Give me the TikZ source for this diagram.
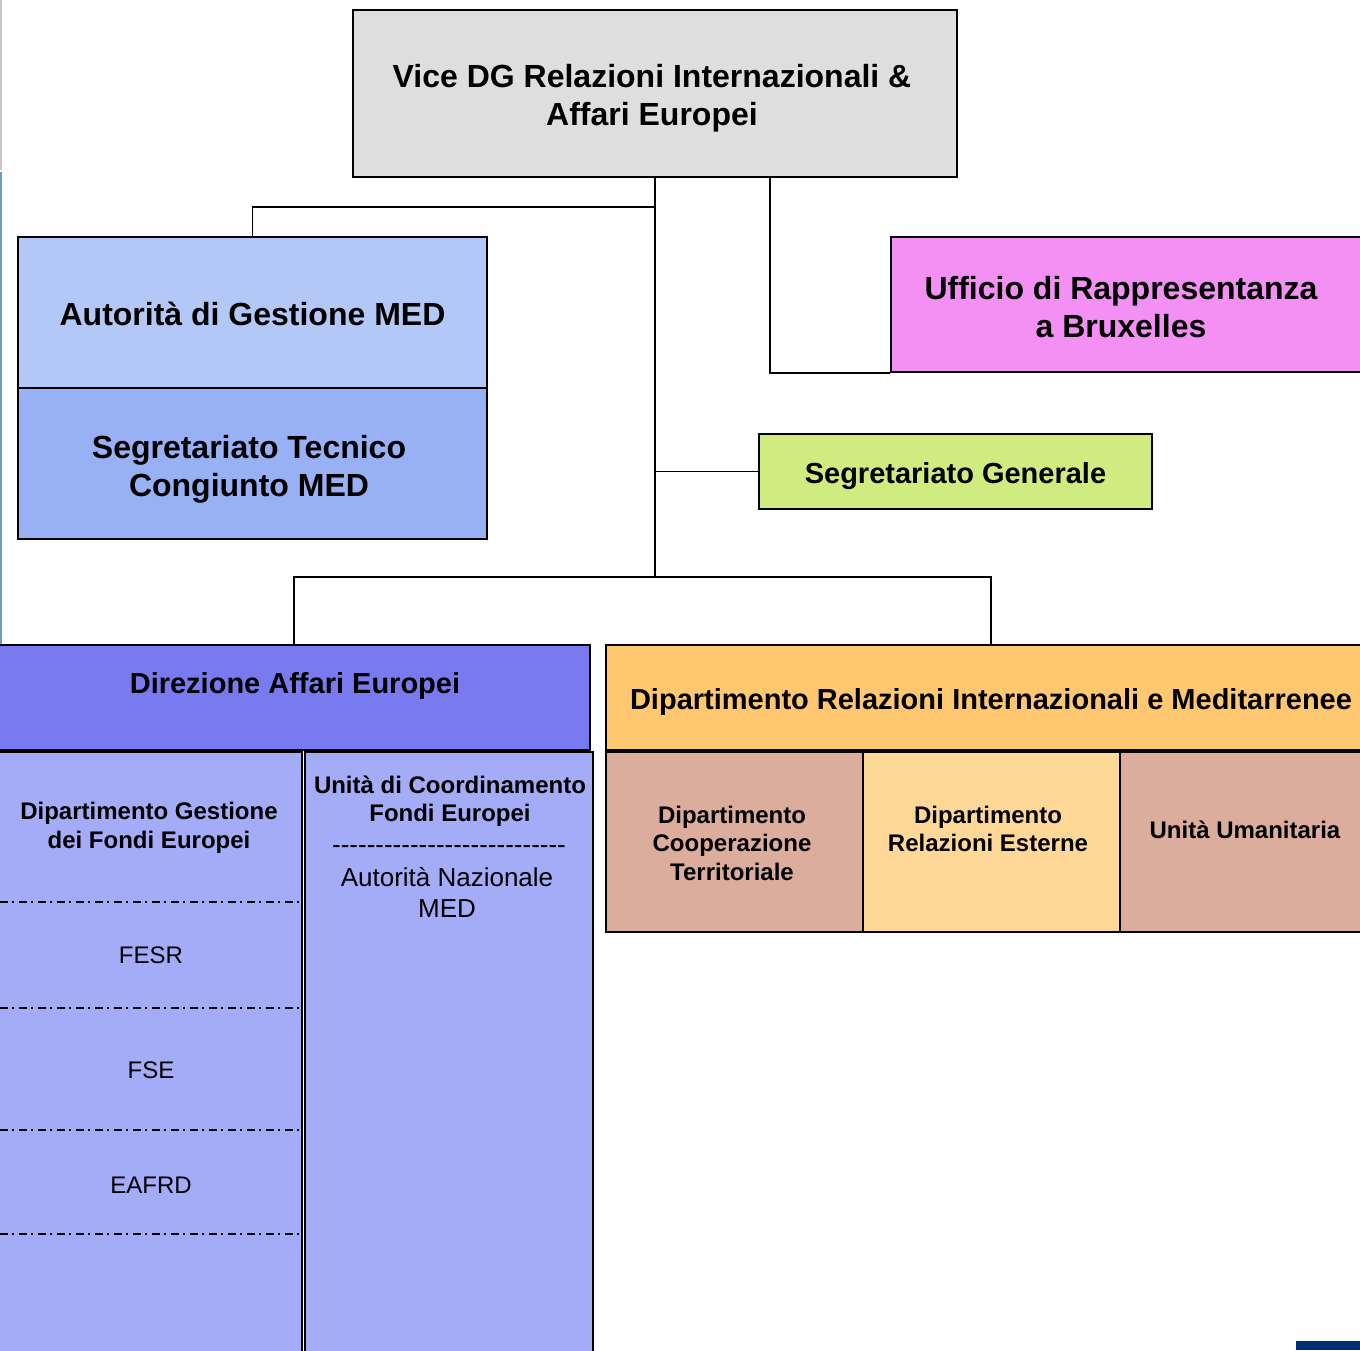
\documentclass[tikz,border=0pt]{standalone}
\usepackage{fontspec}
\setmainfont{Liberation Sans}
\definecolor{vicegray}{HTML}{DEDEDE}
\definecolor{agmblue}{HTML}{B4C8F8}
\definecolor{stcblue}{HTML}{98B0F4}
\definecolor{uffmag}{HTML}{F490F4}
\definecolor{sggreen}{HTML}{D0EC80}
\definecolor{daeblue}{HTML}{7A7AF0}
\definecolor{dgfblue}{HTML}{A4ACF8}
\definecolor{drimorange}{HTML}{FFC870}
\definecolor{brownbox}{HTML}{DCAC9C}
\definecolor{relest}{HTML}{FFD898}
\definecolor{edgegray}{HTML}{C8C8C8}
\definecolor{edgeblue}{HTML}{7098D0}
\definecolor{navy}{HTML}{003070}
\begin{document}
\begin{tikzpicture}[x=1pt,y=-1pt,
  box/.style={draw=black, line width=1.5pt, rectangle, inner sep=0pt},
  big/.style={font=\fontsize{32}{38}\selectfont\bfseries, align=center, inner sep=0pt},
  med/.style={font=\fontsize{29}{35}\selectfont\bfseries, align=center, inner sep=0pt},
  sm/.style={font=\fontsize{24}{28.5}\selectfont\bfseries, align=center, inner sep=0pt},
  rg/.style={font=\fontsize{24}{28}\selectfont, align=center, inner sep=0pt},
  rgb/.style={font=\fontsize{26}{31}\selectfont, align=center, inner sep=0pt},
  conn/.style={draw=black, line width=1.5pt},
  dd/.style={draw=black, line width=1.5pt, dash pattern=on 8pt off 4pt on 2pt off 5pt},
  ]
\useasboundingbox (0,0) rectangle (1360,1350);
\clip (0,0) rectangle (1360,1350);

% edge artefacts
\fill[edgegray] (0,0) rectangle (2,170);
\fill[edgeblue] (0,172) rectangle (2,645);

% boxes
\node[box, fill=vicegray, minimum width=604, minimum height=167] (vice) at (655,93.5) {};
\node[big] (vicet) at (652,98) {Vice DG Relazioni Internazionali \&\\Affari Europei};
\node[box, fill=agmblue, minimum width=469, minimum height=151] (agm) at (252.5,312.5) {};
\node[big] (agmt) at (252.5,314) {Autorità di Gestione MED};
\node[box, fill=stcblue, minimum width=469, minimum height=151] (stc) at (252.5,463.5) {};
\node[big] (stct) at (249,469) {Segretariato Tecnico\\Congiunto MED};
\node[box, fill=uffmag, minimum width=474, minimum height=135] (uff) at (1128,304.5) {};
\node[big] (ufft) at (1121,307) {Ufficio di Rappresentanza\\a Bruxelles};
\node[box, fill=sggreen, minimum width=393, minimum height=75] (sg) at (955.5,471.5) {};
\node[med] (sgt) at (955.5,476) {Segretariato Generale};

\node[box, fill=daeblue, minimum width=592, minimum height=105] (dae) at (294,697.5) {};
\node[med] (daet) at (295,686) {Direzione Affari Europei};
\node[box, fill=drimorange, minimum width=770, minimum height=105] (drim) at (991,697.5) {};
\node[med] (drimt) at (991,702) {Dipartimento Relazioni Internazionali e Meditarrenee};

\node[box, fill=dgfblue, minimum width=304, minimum height=608] (dgf) at (150,1056) {};
\node[sm] (dgft) at (149,828) {Dipartimento Gestione\\dei Fondi Europei};
\node[box, fill=dgfblue, minimum width=288, minimum height=608] (ucf) at (449,1056) {};
\node[sm] (ucft) at (450,801) {Unità di Coordinamento\\Fondi Europei};
\node[rgb] (ucfd) at (449,850) {-{}-{}-{}-{}-{}-{}-{}-{}-{}-{}-{}-{}-{}-{}-{}-{}-{}-{}-{}-{}-{}-{}-{}-{}-{}-{}-};
\node[rgb] (ucfa) at (447,892) {Autorità Nazionale\\MED};

\node[box, fill=brownbox, minimum width=257, minimum height=180] (dct) at (734.5,842) {};
\node[sm] (dctt) at (732,843) {Dipartimento\\Cooperazione\\Territoriale};
\node[box, fill=relest, minimum width=257, minimum height=180] (dre) at (991.5,842) {};
\node[sm] (dret) at (988,829) {Dipartimento\\Relazioni Esterne};
\node[box, fill=brownbox, minimum width=256, minimum height=180] (uu) at (1248,842) {};
\node[sm] (uut) at (1245,830) {Unità Umanitaria};

% separators inside Dipartimento Gestione
\draw[dd] (0,902) -- (300,902);
\draw[dd] (0,1008) -- (300,1008);
\draw[dd] (0,1130) -- (300,1130);
\draw[dd] (0,1234) -- (300,1234);
\node[rg] (fesr) at (151,955) {FESR};
\node[rg] (fse) at (151,1070) {FSE};
\node[rg] (eafrd) at (151,1185) {EAFRD};

% connectors
\coordinate (j0) at (655,207);
\coordinate (j1) at (655,577);
\coordinate (u0) at (770,177);
\draw[conn] (vice.south) -- (j1);
\draw[conn] (agm.north) |- (j0);
\draw[conn] (u0) |- (uff.south west);
\draw[conn] (sg.west) -- (sg.west -| vice.south);
\draw[conn] (dae.north) |- (j1) -| (drim.north);

% corner mark
\fill[navy] (1296,1341) rectangle (1360,1350);
\end{tikzpicture}
\end{document}
